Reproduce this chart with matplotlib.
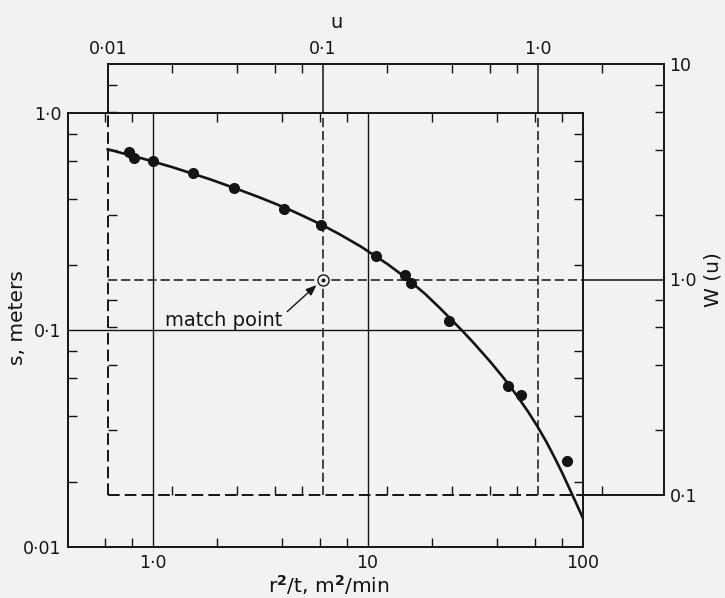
import numpy as np
import matplotlib.pyplot as plt
from matplotlib.ticker import LogLocator, NullFormatter

# field data: drawdown s (m) against r^2/t (m^2/min)
r2t = [0.78, 0.82, 1.0, 1.55, 2.4, 4.1, 6.1, 11, 15, 16, 24, 45, 52, 85]
s_obs = [0.66, 0.62, 0.60, 0.53, 0.45, 0.36, 0.305, 0.22, 0.18, 0.165,
         0.11, 0.055, 0.05, 0.025]

# type curve W(u) as drawn on the type sheet
u_tab = [0.01, 0.015, 0.02, 0.03, 0.04, 0.05, 0.06, 0.07, 0.08, 0.1, 0.12,
         0.15, 0.2, 0.25, 0.3, 0.35, 0.4, 0.45, 0.5, 0.6, 0.7, 0.8, 0.9,
         1.0, 1.1, 1.2, 1.3, 1.4, 1.5, 1.6, 1.7]
W_tab = [4.02, 3.61, 3.32, 2.915, 2.63, 2.42, 2.25, 2.11, 1.985, 1.785, 1.62,
         1.425, 1.18, 1.0, 0.856, 0.739, 0.646, 0.573, 0.512, 0.417, 0.346,
         0.2895, 0.2446, 0.2073, 0.1758, 0.1489, 0.1267, 0.1081, 0.093,
         0.0807, 0.0702]

# match point on the type sheet
u_m, W_m = 0.1, 1.0

x_ticks = [1, 10, 100]
x_labels = ['1·0', '10', '100']
s_ticks = [0.01, 0.1, 1.0]
s_labels = ['0·01', '0·1', '1·0']
u_ticks = [0.01, 0.1, 1.0]
u_labels = ['0·01', '0·1', '1·0']
W_ticks = [0.1, 1.0, 10]
W_labels = ['0·1', '1·0', '10']

BG = '#f2f2f0'
INK = '#141414'
W_, H_ = 725, 598

fig = plt.figure(figsize=(W_ / 100, H_ / 100), dpi=100, facecolor=BG)

# data sheet (solid box)
ax = fig.add_axes([68.4 / W_, 51 / H_, 514.1 / W_, 434 / H_])
# type curve sheet (dashed box), laid over the data sheet
tw = fig.add_axes([107.7 / W_, 103 / H_, 556.3 / W_, 431 / H_])

for a in (ax, tw):
    a.set_facecolor('none')
    a.set_xscale('log')
    a.set_yscale('log')

ax.set_xlim(0.406, 100)
ax.set_ylim(0.01, 1.0)
tw.set_xlim(0.01, 3.87)
tw.set_ylim(0.1, 10)

for a in (ax, tw):
    for axis in (a.xaxis, a.yaxis):
        axis.set_minor_locator(LogLocator(base=10, subs=(2, 4, 6, 8)))
        axis.set_minor_formatter(NullFormatter())
    a.tick_params(which='minor', direction='in', length=6.5, width=1.0,
                  color=INK, top=True, right=True, bottom=True, left=True)
    a.tick_params(which='major', length=0, labelsize=12.5, colors=INK)

ax.set_xticks(x_ticks, x_labels)
ax.set_yticks(s_ticks, s_labels)
ax.tick_params(which='major', pad=5)
for sp in ax.spines.values():
    sp.set_linewidth(1.4)
    sp.set_color(INK)

tw.set_xticks(u_ticks, u_labels)
tw.set_yticks(W_ticks, W_labels)
tw.tick_params(which='major', labeltop=True, labelbottom=False,
               labelright=True, labelleft=False, pad=4)
for side in ('top', 'right'):
    tw.spines[side].set_linewidth(1.4)
    tw.spines[side].set_color(INK)
tw.spines['left'].set_visible(False)
tw.spines['bottom'].set_visible(False)

# grid of the data sheet
for xv in (1, 10):
    ax.axvline(xv, color=INK, lw=1.0)
ax.axhline(0.1, color=INK, lw=1.0)

# lines of the type sheet: dashed where they lie over the data sheet,
# solid outside it
u_edge, W_edge = tw.transData.inverted().transform(
    ax.transData.transform((ax.get_xlim()[1], ax.get_ylim()[1])))
u_lo, u_hi = tw.get_xlim()
W_lo, W_hi = tw.get_ylim()
dash = (0, (6, 2.6))
for uv, lw in ((u_lo, 1.4), (u_m, 1.1), (1.0, 1.1)):
    tw.plot([uv, uv], [W_lo, W_edge], color=INK, lw=lw, ls=dash, clip_on=False)
    tw.plot([uv, uv], [W_edge, W_hi], color=INK, lw=lw, clip_on=False)
for Wv, lw in ((W_lo, 1.4), (W_m, 1.1)):
    tw.plot([u_lo, u_edge], [Wv, Wv], color=INK, lw=lw, ls=dash, clip_on=False)
    tw.plot([u_edge, u_hi], [Wv, Wv], color=INK, lw=lw, clip_on=False)

# type curve, cut off at the edge of the data sheet
curve, = tw.plot(u_tab, W_tab, color=INK, lw=1.9, solid_joinstyle='round')
curve.set_clip_path(ax.patch)

# observations
ax.plot(r2t, s_obs, 'o', color=INK, ms=7, zorder=5)

# match point
tw.plot(u_m, W_m, 'o', mfc=BG, mec=INK, mew=1.0, ms=8, zorder=6)
tw.plot(u_m, W_m, 'o', color=INK, ms=1.8, zorder=7)
tw.annotate('match point', xy=(u_m, W_m), xytext=(-113.5, -33.6),
            textcoords='offset points', fontsize=14, ha='left',
            va='baseline', color=INK,
            arrowprops=dict(arrowstyle='-|>,head_length=0.45,head_width=0.18',
                            color=INK, lw=1.0, shrinkA=2, shrinkB=6,
                            relpos=(1.0, 0.75)))

fig.text(337 / W_, 1 - 22 / H_, 'u', ha='center', va='center',
         fontsize=14, color=INK)
fig.text(713 / W_, 1 - 280 / H_, 'W (u)', ha='center', va='center',
         rotation=90, fontsize=14.5, color=INK)
fig.text(18 / W_, 1 - 318 / H_, 's, meters', ha='center', va='center',
         rotation=90, fontsize=14.5, color=INK)
fig.text(329 / W_, 1 - 593 / H_, r'r$^{\mathbf{2}}$/t, m$^{\mathbf{2}}$/min',
         ha='center', va='baseline', fontsize=14.5, color=INK)

fig.savefig('out.png', dpi=100, facecolor=BG)
